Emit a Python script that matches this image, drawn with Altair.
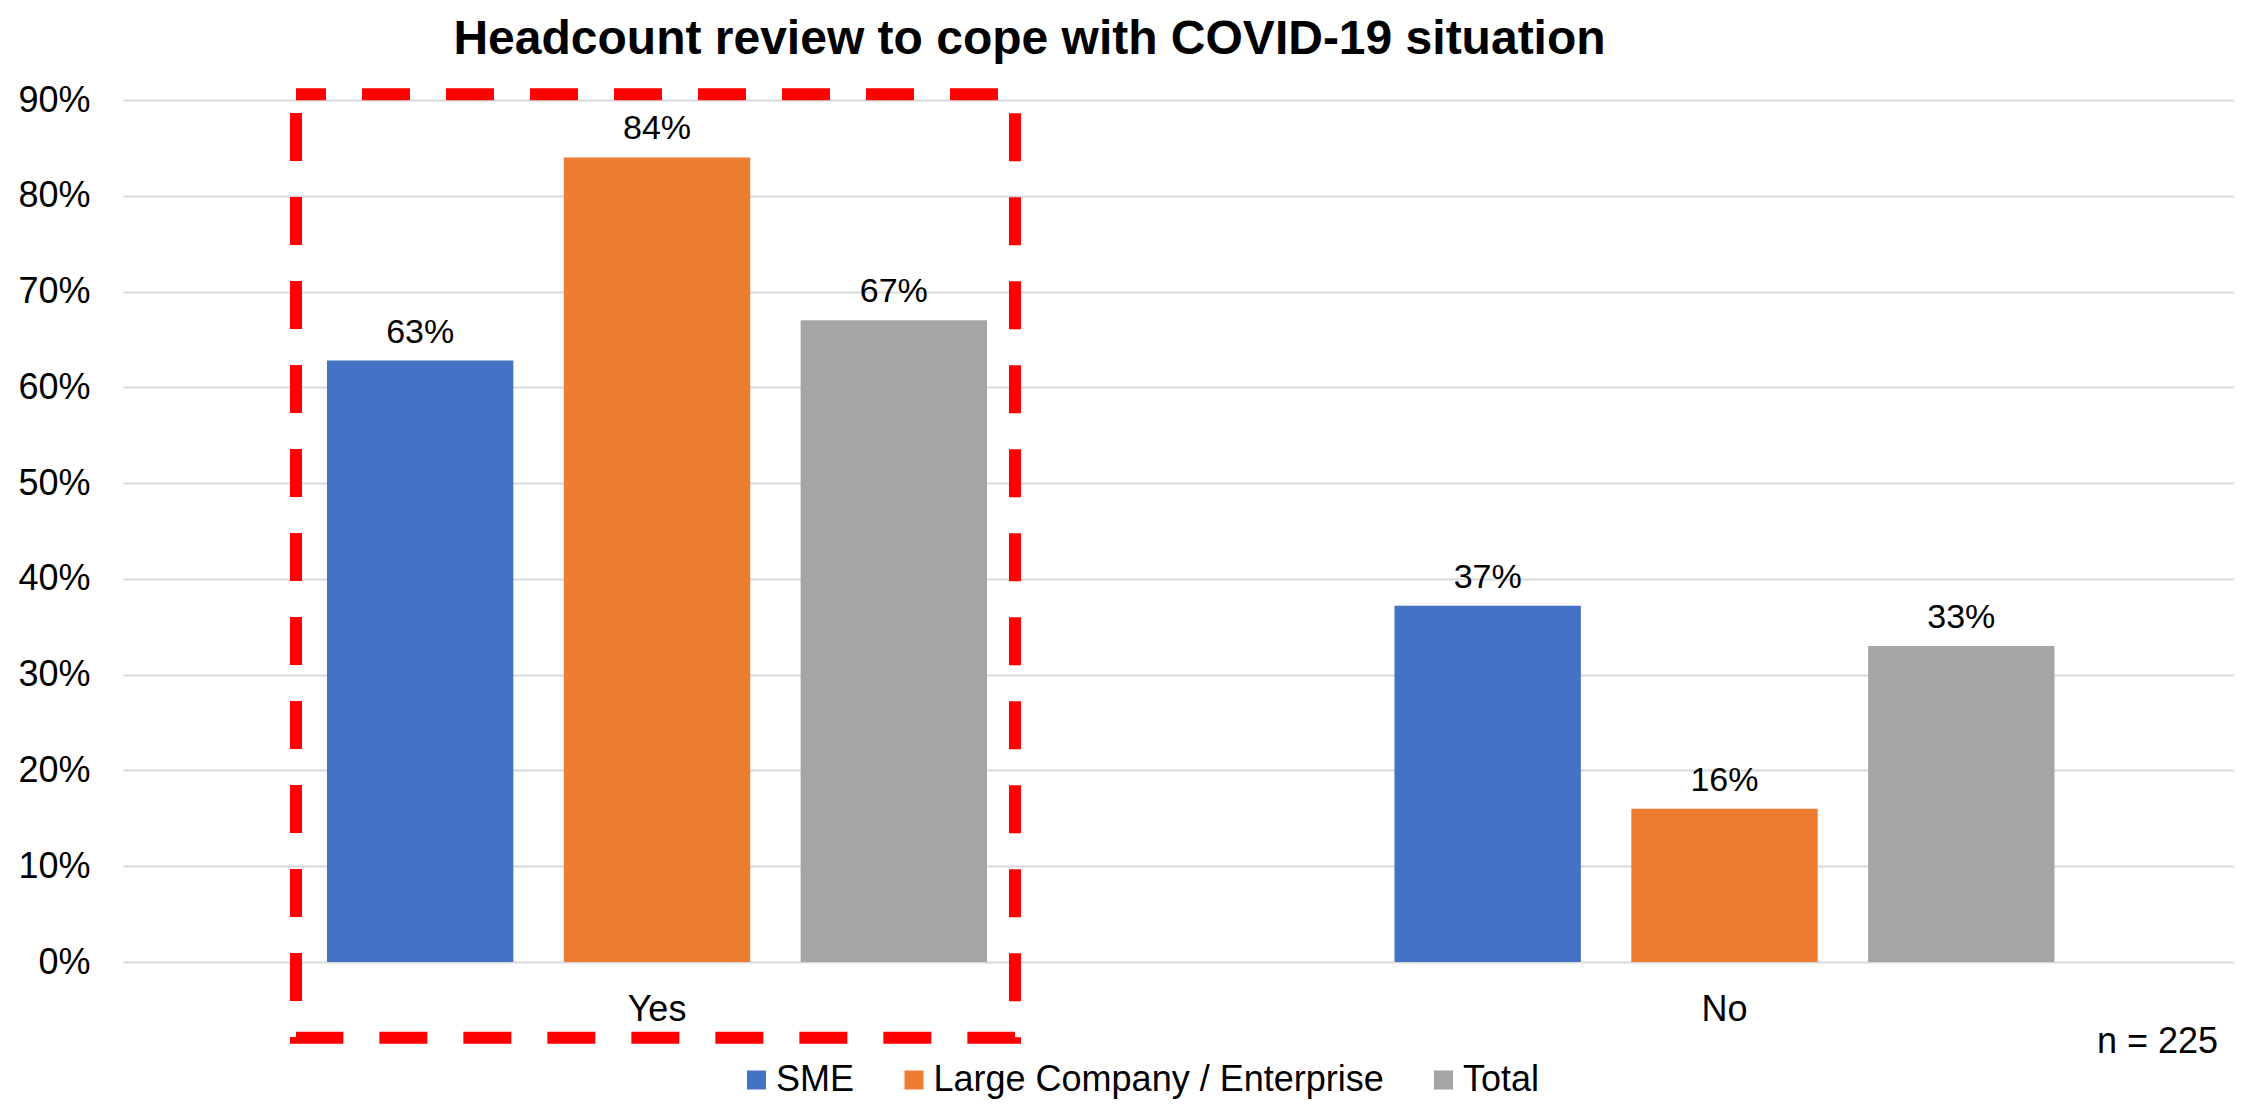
import altair as alt
import pandas as pd

FONT = "Liberation Sans"

# ---- data ----
categories = ["Yes", "No"]
series = ["SME", "Large Company / Enterprise", "Total"]
sme_values = [0.628, 0.372]
large_values = [0.84, 0.16]
total_values = [0.67, 0.33]
colors = ["#4472C4", "#ED7D31", "#A5A5A5"]
y_ticks = [0.0, 0.1, 0.2, 0.3, 0.4, 0.5, 0.6, 0.7, 0.8, 0.9]
title_text = "Headcount review to cope with COVID-19 situation"
note_text = "n = 225"
highlight_category = ["Yes"]
highlight_top = [0.906]
highlight_bottom = [-0.079]

rows = []
for s, vals in zip(series, [sme_values, large_values, total_values]):
    for c, v in zip(categories, vals):
        rows.append({"category": c, "series": s, "value": v})
df = pd.DataFrame(rows)

box_df = pd.DataFrame({"category": highlight_category,
                       "top": highlight_top,
                       "bottom": highlight_bottom})
note_df = pd.DataFrame({"note": [note_text]})

W, H = 2111, 862

x_scale = alt.Scale(domain=categories, range=[0, 2135.5],
                    paddingInner=0.3817, paddingOuter=0.1911)
xo_scale = alt.Scale(domain=series, paddingInner=0.213, paddingOuter=0)
y_scale = alt.Scale(domain=[0, 0.9], nice=False)

x_enc = alt.X("category:N", sort=categories, scale=x_scale,
              axis=alt.Axis(title=None, labelAngle=0, domain=False, ticks=False,
                            tickSize=0, grid=False, labelPadding=58,
                            labelBaseline="alphabetic", labelFontSize=36,
                            labelFont=FONT, labelColor="#000000"))
xo_enc = alt.XOffset("series:N", sort=series, scale=xo_scale)

bars = alt.Chart(df).mark_bar().encode(
    x=x_enc,
    xOffset=xo_enc,
    y=alt.Y("value:Q", scale=y_scale,
            axis=alt.Axis(title=None, values=y_ticks, format=".0%", domain=False,
                          ticks=False, tickSize=0, labelPadding=33,
                          labelFontSize=36, labelFont=FONT, labelColor="#000000",
                          grid=True, gridColor="#D9D9D9", gridWidth=2)),
    color=alt.Color("series:N", sort=series,
                    scale=alt.Scale(domain=series, range=colors),
                    legend=alt.Legend(title=None, orient="none", legendX=615.5,
                                      legendY=962, direction="horizontal",
                                      symbolType="square", symbolSize=361,
                                      symbolStrokeWidth=0, labelFontSize=36,
                                      labelFont=FONT, labelColor="#000000",
                                      labelOffset=1.5, columnPadding=41.5,
                                      labelLimit=1000, padding=0)),
)

labels = alt.Chart(df).mark_text(baseline="alphabetic", dy=-18, fontSize=34,
                                 font=FONT, color="#000000").encode(
    x=x_enc,
    xOffset=xo_enc,
    y=alt.Y("value:Q", scale=y_scale),
    text=alt.Text("value:Q", format=".0%"),
)

base = alt.layer(bars, labels)

box = alt.Chart(box_df).mark_rect(stroke="#FF0000", strokeWidth=12,
                                  strokeDash=[48, 36], strokeDashOffset=18,
                                  fillOpacity=0).encode(
    x=alt.X("category:N",
            scale=alt.Scale(domain=categories, range=[0, 2135.5],
                            paddingInner=0.3284, paddingOuter=0.1616),
            axis=None),
    y=alt.Y("top:Q", scale=y_scale),
    y2="bottom:Q",
)

note = alt.Chart(note_df).mark_text(align="right", baseline="alphabetic",
                                    fontSize=36, font=FONT,
                                    color="#000000").encode(
    x=alt.value(2095), y=alt.value(953), text="note:N")

chart = alt.layer(base, box, note).resolve_scale(x="independent").properties(
    width=W, height=H,
    autosize=alt.AutoSizeParams(type="none"),
    padding={"left": 115, "top": 92, "right": 0, "bottom": 137},
    background="white",
    title=alt.TitleParams(text=title_text, font=FONT, fontSize=48,
                          fontWeight="bold", anchor="middle", frame="group",
                          dx=-149, dy=50, baseline="alphabetic", offset=30,
                          color="#000000"),
).configure_view(strokeWidth=0)

chart.save("out.html", embed_options={"renderer": "svg", "actions": False})
